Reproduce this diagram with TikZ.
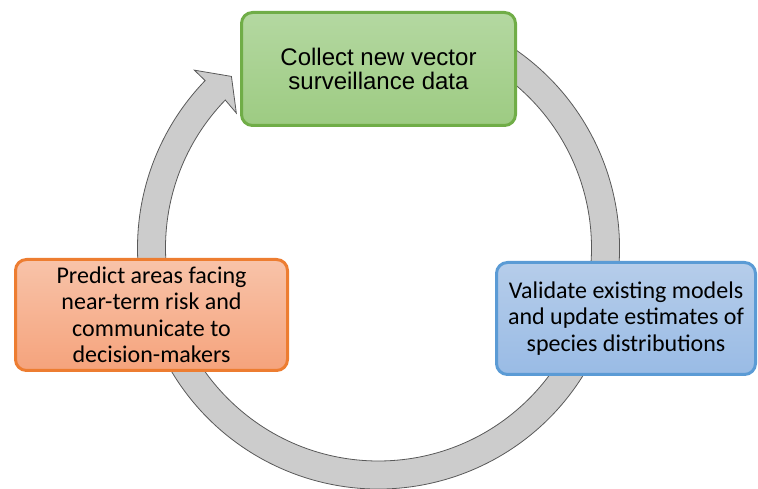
\documentclass[tikz,border=0pt]{standalone}
\usepackage{fontspec}
\setmainfont{Carlito}
\newfontfamily\arialfont{Liberation Sans}
\usepackage{tikz}
\definecolor{greenline}{HTML}{70AD47}
\definecolor{greentop}{HTML}{B4D8A1}
\definecolor{greenbot}{HTML}{9DCB82}
\definecolor{orangeline}{HTML}{ED7D31}
\definecolor{orangetop}{HTML}{F8C3A9}
\definecolor{orangebot}{HTML}{F5A37C}
\definecolor{blueline}{HTML}{5B9BD5}
\definecolor{bluetop}{HTML}{B6CDEA}
\definecolor{bluebot}{HTML}{99BBE5}
\definecolor{ringfill}{HTML}{CCCCCC}
\definecolor{ringline}{HTML}{595959}
\tikzstyle{stage} = [draw, text centered, align=center, inner sep=0pt, rounded corners=11pt, line width=3pt, font=\fontsize{24}{26.5}\selectfont]
\tikzstyle{collect} = [stage, minimum width=274pt, minimum height=113pt, draw=greenline, top color=greentop, bottom color=greenbot, font=\arialfont\fontsize{24}{24}\selectfont]
\tikzstyle{validate} = [stage, minimum width=259pt, minimum height=112pt, draw=blueline, top color=bluetop, bottom color=bluebot]
\tikzstyle{predict} = [stage, minimum width=272pt, minimum height=111pt, draw=orangeline, top color=orangetop, bottom color=orangebot]
\tikzstyle{ring} = [fill=ringfill, draw=ringline, line width=0.8pt]

\begin{document}
\begin{tikzpicture}[x=1pt, y=1pt]
        \useasboundingbox (0,0) rectangle (758,489);

        \begin{scope}[shift={(378.5,241)}]
            \draw[ring] (65:241) arc[start angle=65, end angle=-224, radius=241]
                -- (-224:256) -- (-229.4:226) -- (-223.5:196) -- (-224:213)
                arc[start angle=-224, end angle=65, radius=213] -- cycle;
        \end{scope}

        \node[collect](12) at (378.5,420){Collect new vector \\ surveillance data};
        \node[predict](21) at (151.5,174){Predict areas facing \\ near-term risk and \\ communicate to \\ decision-makers};
        \node[validate](23) at (626,170.5){Validate existing models \\ and update estimates of \\ species distributions};
    \end{tikzpicture}
\end{document}
